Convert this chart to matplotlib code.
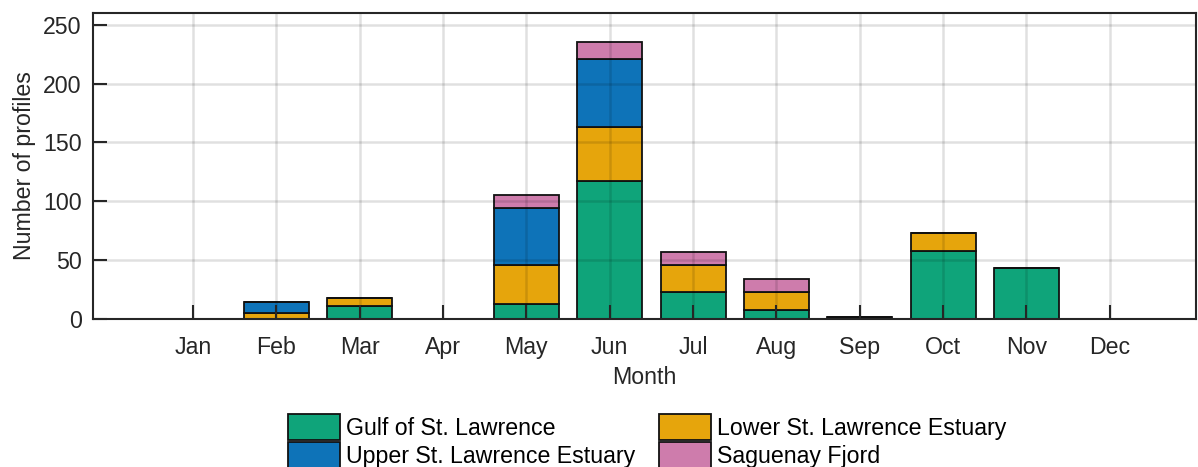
import matplotlib
matplotlib.use("Agg")
import matplotlib.pyplot as plt
import numpy as np

months = ["Jan", "Feb", "Mar", "Apr", "May", "Jun", "Jul", "Aug", "Sep", "Oct", "Nov", "Dec"]
gulf = [0, 0, 11, 0, 13, 117, 23, 8, 2, 58, 43, 0]
lower = [0, 5, 7, 0, 33, 46, 23, 15, 0, 15, 0, 0]
upper = [0, 9, 0, 0, 48, 58, 0, 0, 0, 0, 0, 0]
saguenay = [0, 0, 0, 0, 11, 14, 11, 11, 0, 0, 0, 0]
series_names = ["Gulf of St. Lawrence", "Lower St. Lawrence Estuary",
                "Upper St. Lawrence Estuary", "Saguenay Fjord"]
colors = ["#0FA47A", "#E6A50C", "#0E73B8", "#CE7CAC"]
yticks = [0, 50, 100, 150, 200, 250]

FS = 16.7
plt.rcParams['font.family'] = ['Liberation Sans', 'DejaVu Sans']
fig = plt.figure(figsize=(11.98, 4.67), dpi=100)
ax = fig.add_axes([0.0776, 0.317, 0.9204, 0.655])

x = np.arange(1, 13)
bottom = np.zeros(12)
handles = []
for vals, name, c in zip([gulf, lower, upper, saguenay], series_names, colors):
    v = np.array(vals, dtype=float)
    b = ax.bar(x, v, 0.78, bottom=bottom, color=c, edgecolor="#111111",
               linewidth=1.3, label=name, zorder=2)
    handles.append(b)
    bottom += v

ax.set_xlim(-0.2, 13.03)
ax.set_ylim(0, 260)
ax.set_xticks(x)
ax.set_xticklabels(months)
ax.set_yticks(yticks)
ax.tick_params(direction="in", length=10, width=1.5, labelsize=FS,
               color="#262626", labelcolor="#262626")
ax.tick_params(axis="x", pad=12)
ax.tick_params(axis="y", pad=8)
ax.grid(True, color="black", alpha=0.12, linewidth=1.8, zorder=3)
ax.set_axisbelow(False)
for s in ax.spines.values():
    s.set_linewidth(1.5)
    s.set_color("#262626")
    s.set_zorder(4)
ax.set_xlabel("Month", fontsize=FS, color="#262626", labelpad=5)
ax.set_ylabel("Number of profiles", fontsize=FS, color="#262626", labelpad=5)

order = [handles[0], handles[2], handles[1], handles[3]]
labels = [series_names[0], series_names[2], series_names[1], series_names[3]]
fig.legend(order, labels, loc="upper left", bbox_to_anchor=(0.24, 0.113),
           ncol=2, frameon=False, fontsize=FS, handlelength=2.25,
           handleheight=1.3, labelspacing=0.12, columnspacing=1.05,
           handletextpad=0.25, borderpad=0, borderaxespad=0)

fig.savefig("out.png", dpi=100)
